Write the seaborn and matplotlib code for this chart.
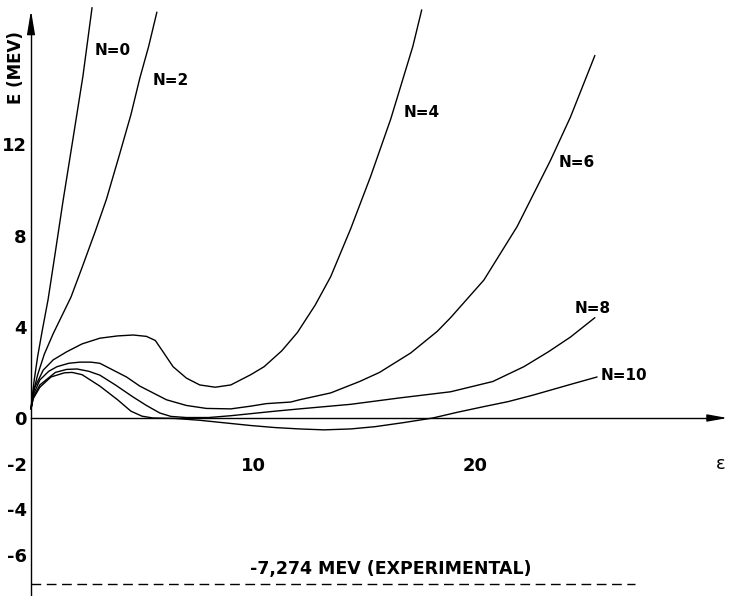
import numpy as np
import pandas as pd
import matplotlib
matplotlib.use("Agg")
import matplotlib.pyplot as plt
import seaborn as sns

# ---------------- data ----------------
n0_eps = [0, 0.05, 0.15, 0.3, 0.5, 0.77, 1.1, 1.44, 1.9, 2.34, 2.75]
n0_E   = [0.4, 0.9, 1.7, 2.7, 3.8, 5.2, 7.3, 9.5, 12.3, 15.0, 18.0]

n2_eps = [0, 0.1, 0.3, 0.6, 1.0, 1.4, 1.8, 2.3, 2.9, 3.4, 4.0, 4.5, 4.9, 5.3, 5.67]
n2_E   = [0.4, 1.1, 1.9, 2.8, 3.7, 4.5, 5.3, 6.6, 8.2, 9.6, 11.6, 13.3, 14.9, 16.3, 17.8]

n4_eps = [0, 0.15, 0.55, 1.0, 1.6, 2.3, 3.1, 3.9, 4.6, 5.2, 5.6, 5.95, 6.4, 7.0, 7.6,
          8.3, 9.0, 9.9, 10.5, 11.3, 12.0, 12.8, 13.5, 14.4, 15.3, 16.2, 16.7, 17.2, 17.6]
n4_E   = [0.4, 1.3, 2.1, 2.55, 2.9, 3.25, 3.5, 3.6, 3.64, 3.58, 3.4, 2.9, 2.25, 1.75, 1.45,
          1.35, 1.45, 1.9, 2.25, 2.95, 3.75, 4.95, 6.2, 8.3, 10.6, 13.1, 14.7, 16.3, 17.9]

n6_eps = [0, 0.1, 0.4, 0.8, 1.17, 1.7, 2.2, 2.7, 3.1, 3.7, 4.3, 4.9, 5.5, 6.1, 7.0, 7.9,
          9.0, 9.9, 10.6, 11.7, 12.1, 13.5, 14.8, 15.7, 17.1, 18.3, 18.9, 20.4, 21.9, 23.4, 24.3, 25.4]
n6_E   = [0.4, 1.0, 1.67, 2.05, 2.25, 2.4, 2.45, 2.45, 2.4, 2.1, 1.8, 1.4, 1.1, 0.8, 0.55, 0.42,
          0.4, 0.52, 0.63, 0.7, 0.8, 1.1, 1.6, 2.0, 2.85, 3.8, 4.4, 6.05, 8.4, 11.3, 13.2, 15.9]

n8_eps = [0, 0.1, 0.4, 1.1, 1.6, 2.07, 2.6, 3.1, 3.8, 4.6, 5.2, 5.8, 6.3, 7.0, 8.0, 9.0, 10.0,
          11.0, 12.1, 14.4, 16.6, 18.9, 20.8, 22.2, 23.3, 24.3, 25.4]
n8_E   = [0.4, 0.9, 1.45, 2.0, 2.13, 2.15, 2.05, 1.88, 1.45, 0.92, 0.55, 0.22, 0.07, 0.02, 0.02, 0.1, 0.2,
          0.3, 0.4, 0.6, 0.88, 1.15, 1.6, 2.25, 2.9, 3.55, 4.4]

n10_eps = [0, 0.1, 0.4, 0.9, 1.5, 1.85, 2.3, 3.1, 3.9, 4.5, 5.0, 5.5, 6.5, 7.6, 8.8, 9.9, 11.0,
           12.1, 13.2, 14.4, 15.5, 16.8, 18.1, 19.2, 20.4, 21.5, 22.6, 23.5, 24.4, 25.5]
n10_E   = [0.4, 0.85, 1.35, 1.8, 1.98, 2.0, 1.9, 1.4, 0.8, 0.3, 0.08, 0.0, -0.02, -0.1, -0.22, -0.33, -0.42,
           -0.48, -0.52, -0.48, -0.38, -0.2, 0.0, 0.25, 0.5, 0.72, 1.0, 1.25, 1.5, 1.8]

curve_names = ["N=0", "N=2", "N=4", "N=6", "N=8", "N=10"]
curve_eps = [n0_eps, n2_eps, n4_eps, n6_eps, n8_eps, n10_eps]
curve_E = [n0_E, n2_E, n4_E, n6_E, n8_E, n10_E]

# label anchor positions (eps, E)
label_eps = [3.7, 6.3, 17.6, 24.6, 25.3, 26.7]
label_E = [16.1, 14.8, 13.4, 11.2, 4.8, 1.85]

exp_value = -7.274
exp_span = [0, 27.2]
exp_text = "-7,274 MEV (EXPERIMENTAL)"

ytick_vals = [-6, -4, -2, 0, 2, 4, 6, 8, 10, 12, 14, 16]
ytick_labels = ["-6", "-4", "-2", "0", "", "4", "", "8", "", "12", "", ""]
xtick_vals = [2, 4, 6, 8, 10, 12, 14, 16, 18, 20, 22, 24, 26, 28]
xtick_labels = ["", "", "", "", "10", "", "", "", "", "20", "", "", "", ""]

# ---------------- figure ----------------
sns.set_theme(style="white")
plt.rcParams["font.family"] = ["DejaVu Sans"]

fig = plt.figure(figsize=(7.31, 5.96), dpi=100)
ax = fig.add_axes([0, 0, 1, 1])

XMIN, XMAX = -31 / 22.2, 700 / 22.2
YMIN, YMAX = -178 / 22.8, 418 / 22.8

rows = []
for name, xs, ys in zip(curve_names, curve_eps, curve_E):
    for i, (x, y) in enumerate(zip(xs, ys)):
        rows.append({"N": name, "order": i, "eps": x, "E": y})
df = pd.DataFrame(rows)

sns.lineplot(data=df, x="eps", y="E", hue="N", units="N", estimator=None, sort=False,
             palette=["black"] * len(curve_names), legend=False, linewidth=1.0, ax=ax)

for name, lx, ly in zip(curve_names, label_eps, label_E):
    ax.text(lx, ly, name, ha="center", va="center", fontsize=11, fontweight="bold", color="black")

# experimental line
ax.hlines(exp_value, exp_span[0], exp_span[1], colors="black", linewidth=1.0,
          linestyles=(0, (7, 4)))
ax.text(16.2, exp_value + 0.25, exp_text, ha="center", va="bottom", fontsize=12.5,
        fontweight="bold", color="black")

ax.set_xlim(XMIN, XMAX)
ax.set_ylim(YMIN, YMAX)

# axes as spines through origin
for s in ["top", "right"]:
    ax.spines[s].set_visible(False)
ax.spines["left"].set_position(("data", 0))
ax.spines["bottom"].set_position(("data", 0))
ax.spines["left"].set_bounds(YMIN, 17.3)
ax.spines["bottom"].set_bounds(0, 30.9)
for s in ["left", "bottom"]:
    ax.spines[s].set_color("black")
    ax.spines[s].set_linewidth(1.0)

ax.set_xticks(xtick_vals)
ax.set_xticklabels(xtick_labels)
ax.set_yticks(ytick_vals)
ax.set_yticklabels(ytick_labels)
ax.tick_params(axis="x", direction="in", length=5, width=1, pad=28, labelsize=13, colors="black")
ax.tick_params(axis="y", direction="in", length=4, width=1, pad=3, labelsize=13, colors="black")
for lab in ax.get_xticklabels() + ax.get_yticklabels():
    lab.set_fontweight("bold")
ax.set_xlabel("")
ax.set_ylabel("")

# arrowheads
ax.annotate("", xy=(0, 18.0), xytext=(0, 17.1),
            arrowprops=dict(arrowstyle="-|>,head_length=1.2,head_width=0.2", color="black", lw=1.0))
ax.annotate("", xy=(31.5, 0), xytext=(30.7, 0),
            arrowprops=dict(arrowstyle="-|>,head_length=1.0,head_width=0.18", color="black", lw=1.0))

ax.text(31.05, -2.0, "ε", ha="center", va="center", fontsize=13, color="black")
ax.text(-0.68, 15.35, "E (MEV)", rotation=90, ha="center", va="center", fontsize=12,
        fontweight="bold", color="black")

fig.savefig("out.png", dpi=100, facecolor="white")
